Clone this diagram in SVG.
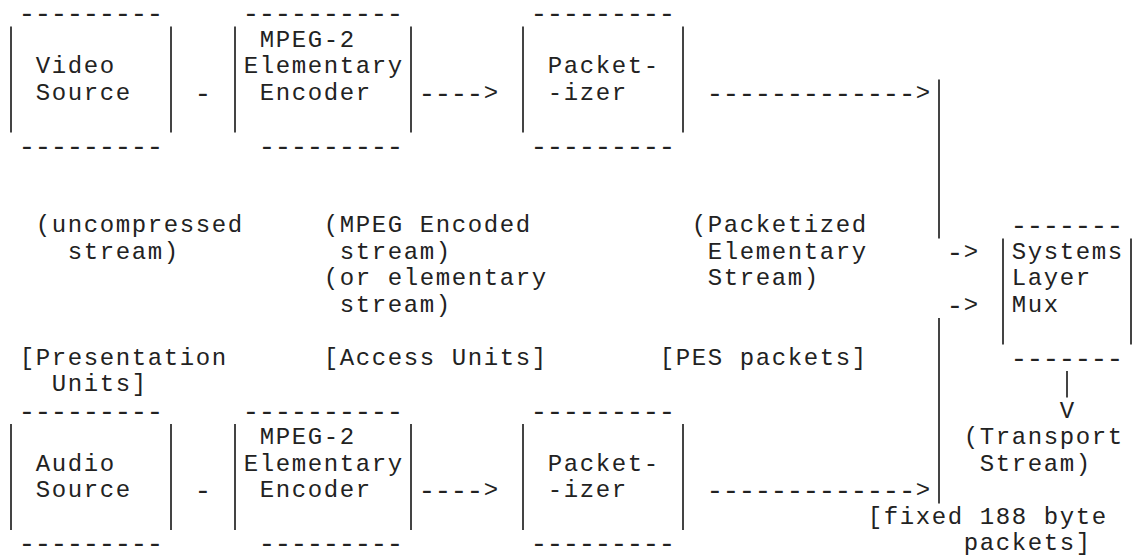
<svg xmlns="http://www.w3.org/2000/svg" width="1134" height="556" viewBox="0 0 1134 556">
<style>
text{font-family:"Courier New","Liberation Mono",monospace;font-size:24px;letter-spacing:1.6px;fill:#222;white-space:pre}
text.d{font-size:28px;letter-spacing:-0.8px}
tspan.g{font-size:24px;letter-spacing:1.6px}
.bar{stroke:#444;stroke-width:2;fill:none}
</style>
<rect width="1134" height="556" fill="#fff"/>
<g id="video-source">
<text class="d" x="18.6" y="22">---------</text>
<line class="bar" x1="11" y1="26.5" x2="11" y2="132.5"/>
<line class="bar" x1="171" y1="26.5" x2="171" y2="132.5"/>
<text x="35.8" y="73">Video</text>
<text x="35.8" y="99.5">Source</text>
<text class="d" x="18.6" y="154.5">---------</text>
</g>
<g id="video-encoder">
<text class="d" x="242.6" y="22">----------</text>
<line class="bar" x1="235" y1="26.5" x2="235" y2="132.5"/>
<line class="bar" x1="411" y1="26.5" x2="411" y2="132.5"/>
<text x="259.8" y="46.5">MPEG-2</text>
<text x="243.8" y="73">Elementary</text>
<text x="259.8" y="99.5">Encoder</text>
<text class="d" x="258.6" y="154.5">---------</text>
</g>
<g id="video-packetizer">
<text class="d" x="530.6" y="22">---------</text>
<line class="bar" x1="523" y1="26.5" x2="523" y2="132.5"/>
<line class="bar" x1="683" y1="26.5" x2="683" y2="132.5"/>
<text x="547.8" y="73">Packet-</text>
<text x="547.8" y="99.5">-izer</text>
<text class="d" x="530.6" y="154.5">---------</text>
</g>
<g id="audio-source">
<text class="d" x="18.6" y="419.5">---------</text>
<line class="bar" x1="11" y1="424" x2="11" y2="530"/>
<line class="bar" x1="171" y1="424" x2="171" y2="530"/>
<text x="35.8" y="470.5">Audio</text>
<text x="35.8" y="497">Source</text>
<text class="d" x="18.6" y="552">---------</text>
</g>
<g id="audio-encoder">
<text class="d" x="242.6" y="419.5">----------</text>
<line class="bar" x1="235" y1="424" x2="235" y2="530"/>
<line class="bar" x1="411" y1="424" x2="411" y2="530"/>
<text x="259.8" y="444">MPEG-2</text>
<text x="243.8" y="470.5">Elementary</text>
<text x="259.8" y="497">Encoder</text>
<text class="d" x="258.6" y="552">---------</text>
</g>
<g id="audio-packetizer">
<text class="d" x="530.6" y="419.5">---------</text>
<line class="bar" x1="523" y1="424" x2="523" y2="530"/>
<line class="bar" x1="683" y1="424" x2="683" y2="530"/>
<text x="547.8" y="470.5">Packet-</text>
<text x="547.8" y="497">-izer</text>
<text class="d" x="530.6" y="552">---------</text>
</g>
<g id="systems-layer-mux">
<text class="d" x="1010.6" y="234">-------</text>
<line class="bar" x1="1003" y1="238.5" x2="1003" y2="344.5"/>
<line class="bar" x1="1131" y1="238.5" x2="1131" y2="344.5"/>
<text x="1011.8" y="258.5">Systems</text>
<text x="1011.8" y="285">Layer</text>
<text x="1011.8" y="311.5">Mux</text>
<text class="d" x="1010.6" y="366.5">-------</text>
</g>
<g id="connectors">
<text class="d" x="194.6" y="101.5">-</text>
<text class="d" x="418.6" y="101.5">----<tspan class="g" x="483.8" y="99.5">&gt;</tspan></text>
<text class="d" x="706.6" y="101.5">-------------<tspan class="g" x="915.8" y="99.5">&gt;</tspan></text>
<text class="d" x="194.6" y="499">-</text>
<text class="d" x="418.6" y="499">----<tspan class="g" x="483.8" y="497">&gt;</tspan></text>
<text class="d" x="706.6" y="499">-------------<tspan class="g" x="915.8" y="497">&gt;</tspan></text>
<line class="bar" x1="939" y1="79.5" x2="939" y2="238.5"/>
<line class="bar" x1="939" y1="318" x2="939" y2="503.5"/>
<text class="d" x="946.6" y="260.5">-<tspan class="g" x="963.8" y="258.5">&gt;</tspan></text>
<text class="d" x="946.6" y="313.5">-<tspan class="g" x="963.8" y="311.5">&gt;</tspan></text>
<line class="bar" x1="1067" y1="371" x2="1067" y2="397.5"/>
<text x="1059.8" y="417.5">V</text>
</g>
<g id="labels">
<text x="35.8" y="232">(uncompressed</text>
<text x="67.8" y="258.5">stream)</text>
<text x="323.8" y="232">(MPEG Encoded</text>
<text x="339.8" y="258.5">stream)</text>
<text x="323.8" y="285">(or elementary</text>
<text x="339.8" y="311.5">stream)</text>
<text x="691.8" y="232">(Packetized</text>
<text x="707.8" y="258.5">Elementary</text>
<text x="707.8" y="285">Stream)</text>
<text x="19.8" y="364.5">[Presentation</text>
<text x="51.8" y="391">Units]</text>
<text x="323.8" y="364.5">[Access Units]</text>
<text x="659.8" y="364.5">[PES packets]</text>
<text x="963.8" y="444">(Transport</text>
<text x="979.8" y="470.5">Stream)</text>
<text x="867.8" y="523.5">[fixed 188 byte</text>
<text x="963.8" y="550">packets]</text>
</g>
</svg>
